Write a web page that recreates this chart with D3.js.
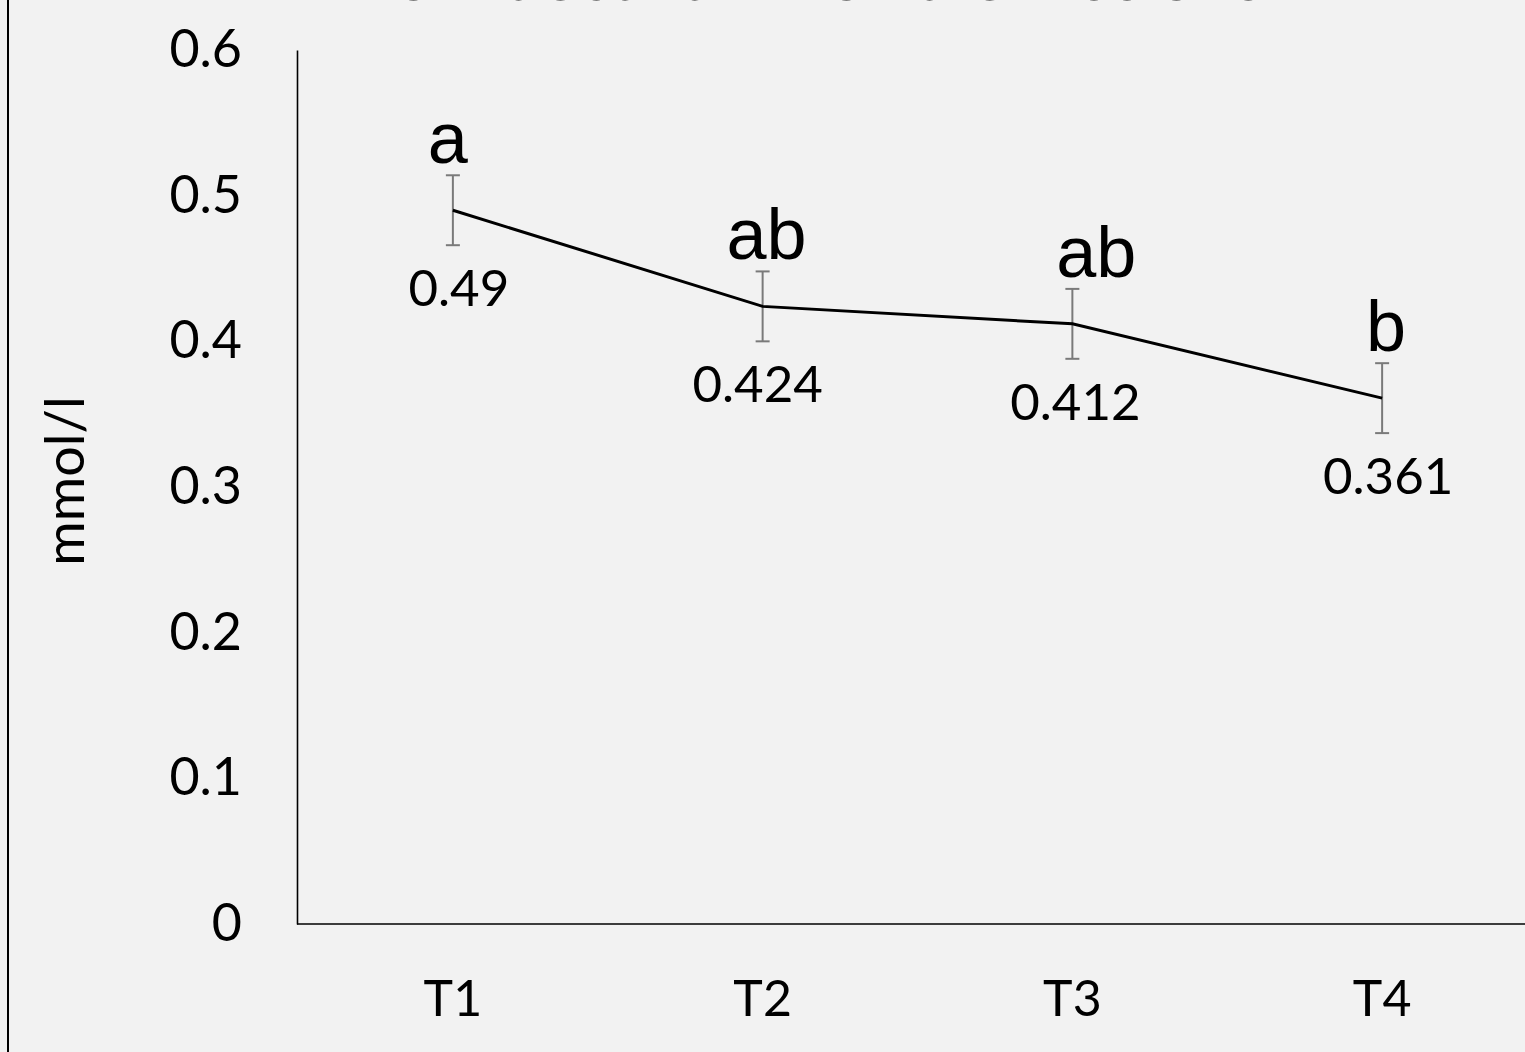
<!DOCTYPE html>
<html>
<head>
<meta charset="utf-8">
<script src="https://cdn.jsdelivr.net/npm/d3@7"></script>
<style>
  html, body { margin: 0; padding: 0; background: #f2f2f2; overflow: hidden; }
  svg { display: block; }
</style>
</head>
<body>
<svg id="chart" width="1525" height="1052"></svg>
<script>
// ---- data ----
const categories = ["T1", "T2", "T3", "T4"];
const values = [0.49, 0.424, 0.412, 0.361];
const errors = [0.024, 0.024, 0.024, 0.024];
const letters = ["a", "ab", "ab", "b"];
const valueLabels = ["0.49", "0.424", "0.412", "0.361"];
const yTicks = [0, 0.1, 0.2, 0.3, 0.4, 0.5, 0.6];
const titleText = "on faecal ammonia emissions";
const yLabel = "mmol/l";

// ---- layout ----
const letterNudge = [-5, 4, 24, 4];
const valueNudge = [6, -5, 3, 6];
const W = 1525, H = 1052;
const svg = d3.select("#chart");
svg.append("rect").attr("width", W).attr("height", H).attr("fill", "#f2f2f2");
// outer chart border (left edge visible)
svg.append("line").attr("x1", 8).attr("x2", 8).attr("y1", 0).attr("y2", H)
  .attr("stroke", "#000").attr("stroke-width", 2);

const x = d3.scaleBand().domain(categories).range([298, 1537]).padding(0);
const y = d3.scaleLinear().domain([0, 0.6]).range([924, 50]);
const cx = d => x(d) + x.bandwidth() / 2;

// title (partly cut off at top, as in the original)
svg.append("text").attr("x", 830).attr("y", 0)
  .attr("text-anchor", "middle")
  .attr("font-family", "Liberation Sans, Arial, sans-serif")
  .attr("font-size", 66).attr("fill", "#000").text(titleText);

// y axis
const yAxis = d3.axisLeft(y).tickValues(yTicks).tickSize(0).tickPadding(55)
  .tickFormat(d => d === 0 ? "0" : d3.format(".1f")(d));
const gy = svg.append("g").attr("transform", "translate(297,0)").call(yAxis);
gy.select(".domain").attr("stroke", "#000").attr("stroke-width", 1.6);
gy.selectAll("text").attr("font-family", "Lato, sans-serif").attr("font-size", 52)
  .attr("fill", "#000");

// x axis
const xAxis = d3.axisBottom(x).tickSize(0).tickPadding(56);
const gx = svg.append("g").attr("transform", "translate(0,924)").call(xAxis);
gx.select(".domain").attr("d", "M297,0H1537").attr("stroke", "#000").attr("stroke-width", 1.6);
gx.selectAll("text").attr("font-family", "Lato, sans-serif").attr("font-size", 50)
  .attr("fill", "#000");

// y label
svg.append("text").attr("transform", "translate(84,481) rotate(-90)")
  .attr("text-anchor", "middle")
  .attr("font-family", "Lato, sans-serif").attr("font-size", 54)
  .attr("fill", "#000").text(yLabel);

const data = categories.map((c, i) => ({ c, v: values[i], e: errors[i], l: letters[i], vl: valueLabels[i], i }));

// error bars
const eb = svg.append("g").attr("stroke", "#7a7a7a").attr("stroke-width", 2);
data.forEach(d => {
  const X = cx(d.c);
  eb.append("line").attr("x1", X).attr("x2", X).attr("y1", y(d.v + d.e)).attr("y2", y(d.v - d.e));
  eb.append("line").attr("x1", X - 7).attr("x2", X + 7).attr("y1", y(d.v + d.e)).attr("y2", y(d.v + d.e));
  eb.append("line").attr("x1", X - 7).attr("x2", X + 7).attr("y1", y(d.v - d.e)).attr("y2", y(d.v - d.e));
});

// line
svg.append("path").datum(data)
  .attr("d", d3.line().x(d => cx(d.c)).y(d => y(d.v)))
  .attr("fill", "none").attr("stroke", "#000").attr("stroke-width", 3);

// value labels
svg.append("g").selectAll("text").data(data).join("text")
  .attr("x", d => cx(d.c) + valueNudge[d.i]).attr("y", d => y(d.v) + 78)
  .attr("dy", "0.35em").attr("text-anchor", "middle")
  .attr("font-family", "Lato, sans-serif").attr("font-size", 51)
  .attr("fill", "#000").text(d => d.vl);

// significance letters
svg.append("g").selectAll("text").data(data).join("text")
  .attr("x", d => cx(d.c) + letterNudge[d.i]).attr("y", d => y(d.v + d.e) - 12)
  .attr("text-anchor", "middle")
  .attr("font-family", "Liberation Sans, Arial, sans-serif").attr("font-size", 72)
  .attr("fill", "#000").text(d => d.l);
</script>
</body>
</html>
